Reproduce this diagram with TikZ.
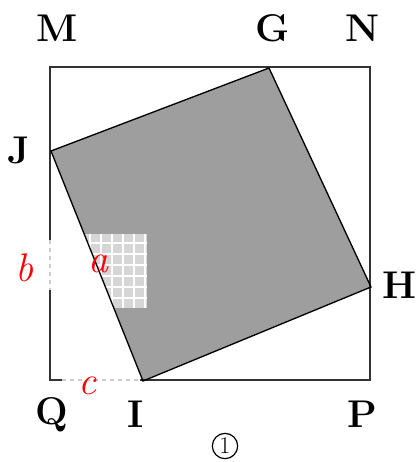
\documentclass[tikz,border=0pt]{standalone}
\usepackage{tikz}
\definecolor{shadec}{RGB}{158,158,158}
\definecolor{patchc}{RGB}{214,214,214}
\definecolor{markc}{RGB}{205,205,205}

\begin{document}
\begin{tikzpicture}[x=0.75pt,y=-0.75pt,
  ptlabel/.style={font=\fontsize{29}{32}\selectfont\bfseries},
  sidelabel/.style={red,font=\fontsize{30}{32}\selectfont\itshape}]
\useasboundingbox (0,0) rectangle (418,462);
% outer square
\coordinate (M) at (50,67); \coordinate (N) at (370,67);
\coordinate (P) at (370,380); \coordinate (Q) at (50,380);
% inner square
\coordinate (G) at (269,68); \coordinate (H) at (371,287);
\coordinate (I) at (143,381); \coordinate (J) at (51,151);
% marked pieces of the sides
\coordinate (b1) at (50,240); \coordinate (b2) at (50,290);
\coordinate (c1) at (62,380); \coordinate (c2) at (140,380);
\fill[shadec] (J)--(G)--(H)--(I)--cycle;
\begin{scope}
\clip (J)--(G)--(H)--(I)--cycle;
\fill[patchc] (85,234) rectangle (147,308);
\clip (85,234) rectangle (147,308);
\foreach \x in {90,101,112,123,134,145}{ \draw[white,line width=0.8pt] (\x,234)--(\x,308); }
\foreach \y in {243,254,265,276,287,298}{ \draw[white,line width=0.8pt] (85,\y)--(147,\y); }
\end{scope}
\draw[black!80,line width=1pt] (M)--(N)--(P)--(Q)--cycle;
\draw[black,line width=1pt] (J)--(G)--(H)--(I)--cycle;
\draw[white,line width=1.6pt] (b1)--(b2); \draw[markc,dashed,line width=1pt] (b1)--(b2);
\draw[white,line width=1.6pt] (c1)--(c2); \draw[markc,dashed,line width=1pt] (c1)--(c2);
% vertex names
\node[ptlabel] (lM) at (57,28) {M};
\node[ptlabel] (lG) at (273,28) {G};
\node[ptlabel] (lN) at (363,28) {N};
\node[ptlabel] (lJ) at (19,150) {J};
\node[ptlabel] (lH) at (400,285) {H};
\node[ptlabel] (lQ) at (52,415) {Q};
\node[ptlabel] (lI) at (136,414) {I};
\node[ptlabel] (lP) at (362,414) {P};
% side names
\node[sidelabel] (la) at (99,264) {a};
\node[sidelabel] (lb) at (25,268) {b};
\node[sidelabel] (lc) at (88,386) {c};
\node[draw,circle,line width=0.9pt,minimum size=19pt,inner sep=0pt,font=\fontsize{18}{19}\selectfont] (num) at (225,446) {1};
\end{tikzpicture}
\end{document}
